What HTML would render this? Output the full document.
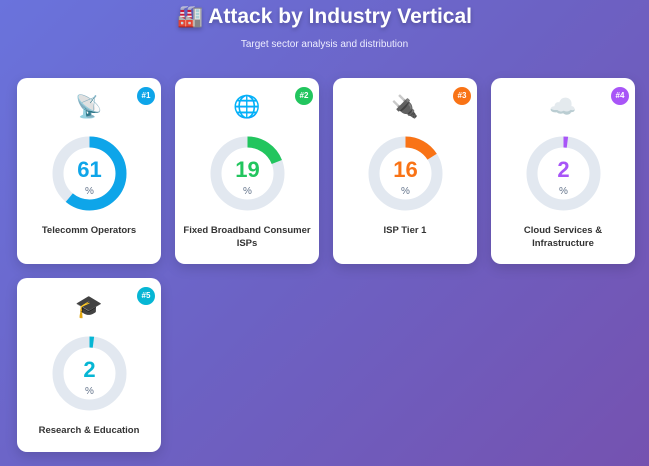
<!DOCTYPE html>
<html><head><meta charset="utf-8"><style>
body{margin:0;width:649px;height:466px;overflow:hidden;background:linear-gradient(135deg,#6a73dc 0%,#6c62c4 50%,#7552b0 100%);font-family:"Liberation Sans","Noto Sans CJK SC",sans-serif;position:relative}
h1{position:absolute;top:5px;left:0;width:649px;text-align:center;margin:0;color:#fff;font-size:21px;font-weight:bold;text-shadow:0 2px 4px rgba(0,0,0,.25)}
.sub{position:absolute;top:39px;left:0;width:649px;text-align:center;color:#eef;font-size:10px}
.card{position:absolute;width:144px;background:#fff;border-radius:10px;box-shadow:0 4px 12px rgba(0,0,0,.15)}
.badge{position:absolute;right:6px;top:9px;width:18px;height:18px;border-radius:50%;color:#fff;font-size:8px;font-weight:bold;text-align:center;line-height:18px}
.icon{position:absolute;left:0;width:144px;text-align:center;font-size:22px;top:16px}
svg{position:absolute;left:35px;top:58px}
.lbl{position:absolute;left:6px;width:132px;text-align:center;font-size:9.5px;font-weight:bold;color:#333;line-height:13px}
</style></head><body>
<h1>🏭 Attack by Industry Vertical</h1>
<div class="sub">Target sector analysis and distribution</div>
<div id="grid"></div>
<script>
const categories=["Telecomm Operators","Fixed Broadband Consumer ISPs","ISP Tier 1","Cloud Services & Infrastructure","Research & Education"];
const values=[61,19,16,2,2];
const ranks=["#1","#2","#3","#4","#5"];
const icons=["📡","🌐","🔌","☁️","🎓"];
const colors=["#0ea5e9","#22c55e","#f97316","#a855f7","#06b6d4"];
const grid=document.getElementById('grid');
const R=31.5,C=2*Math.PI*R;
categories.forEach((cat,i)=>{
  const col=i%4,row=Math.floor(i/4);
  const card=document.createElement('div');
  card.className='card';
  
  
  card.style.left=(17+col*158)+'px';
  card.style.top=(78+row*200)+'px';
  card.style.height=(row?174:186)+'px';
  const v=values[i],len=C*v/100;
  card.innerHTML=`<div class="badge" style="background:${colors[i]}">${ranks[i]}</div>
<div class="icon">${icons[i]}</div>
<svg width="75" height="75">
<circle cx="37.5" cy="37.5" r="${R}" fill="none" stroke="#e2e8f0" stroke-width="11"/>
<circle class="arc" cx="37.5" cy="37.5" r="${R}" fill="none" stroke="${colors[i]}" stroke-width="11" stroke-dasharray="${len} ${C}" transform="rotate(-90 37.5 37.5)"/>
<text x="37.5" y="41" text-anchor="middle" font-size="22" font-weight="bold" fill="${colors[i]}" font-family="Liberation Sans, sans-serif">${v}</text>
<text x="37.5" y="58" text-anchor="middle" font-size="10" fill="#64748b" font-family="Liberation Sans, sans-serif">%</text>
</svg>
<div class="lbl" style="top:146px">${cat.replace('&','&amp;')}</div>`;
  const arc=card.querySelector('.arc');
  
  
  grid.appendChild(card);
});
</script>
</body></html>
